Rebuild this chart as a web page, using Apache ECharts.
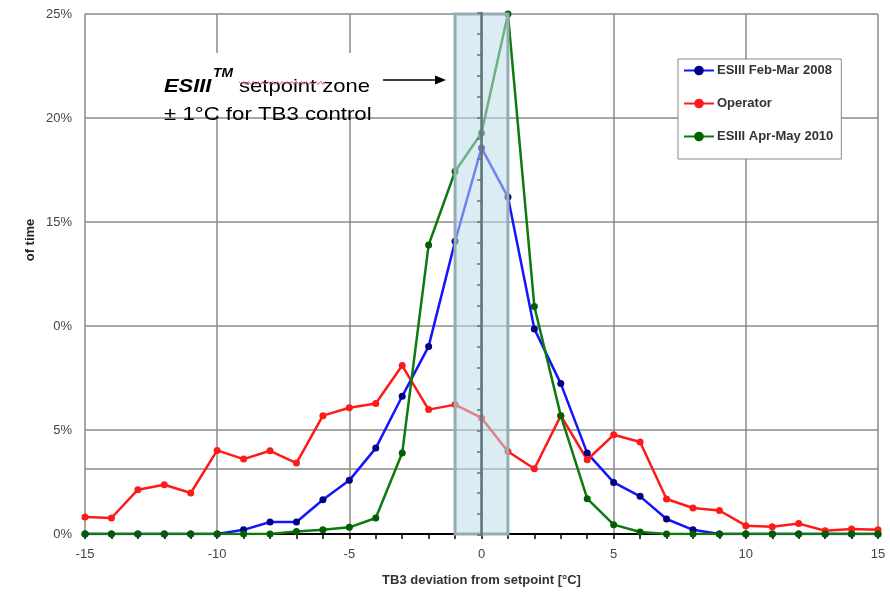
<!DOCTYPE html>
<html>
<head>
<meta charset="utf-8">
<script src="https://cdn.jsdelivr.net/npm/echarts@6/dist/echarts.min.js"></script>
<style>html,body{margin:0;padding:0;background:#fff}#c{width:890px;height:592px}</style>
</head>
<body>
<div id="c"></div>
<script>
const xValues = [-15,-14,-13,-12,-11,-10,-9,-8,-7,-6,-5,-4,-3,-2,-1,0,1,2,3,4,5,6,7,8,9,10,11,12,13,14,15];
const esiii2008 = [0,0,0,0,0,0,0.2,0.58,0.58,1.65,2.58,4.13,6.62,9.02,14.07,18.56,16.2,9.86,7.23,3.89,2.48,1.81,0.72,0.2,0,0,0,0,0,0,0];
const operator = [0.82,0.77,2.13,2.37,1.97,4.02,3.6,4.0,3.41,5.69,6.07,6.27,8.1,5.98,6.22,5.58,3.97,3.14,5.69,3.57,4.77,4.42,1.68,1.25,1.13,0.4,0.35,0.5,0.16,0.24,0.21];
const esiii2010 = [0,0,0,0,0,0,0,0,0.12,0.2,0.32,0.77,3.89,13.9,17.43,19.28,25,10.94,5.69,1.7,0.45,0.1,0,0,0,0,0,0,0,0,0];
const seriesNames = ['ESIII Feb-Mar 2008','Operator','ESIII Apr-May 2010'];
const yTickLabels = {0:'0%',5:'5%',10:'0%',15:'15%',20:'20%',25:'25%'};
const zoneRange = [-1, 1];
const extraGridValue = 3.14;

const chart = echarts.init(document.getElementById('c'));
const FONT = 'Liberation Sans, Arial, sans-serif';
function pairs(arr){ return arr.map((v,i)=>[xValues[i], v]); }
function lineSeries(name, data, lineColor, markColor){
  return {
    name, type:'line', data: pairs(data), z:2,
    symbol:'circle', symbolSize:7, showSymbol:true,
    lineStyle:{color:lineColor, width:2.5},
    itemStyle:{color:markColor},
    emphasis:{disabled:true}, animation:false
  };
}
// wavy spell-check underline under "setpoint"
const wave = [];
for (let i = 0; i <= 36; i++) wave.push([239 + i*2.4, i % 2 ? 84.5 : 81.5]);

chart.setOption({
  animation:false,
  grid:[{left:85, right:12, top:14, bottom:58},{left:481, width:1, top:13, bottom:57}],
  legend:{
    data:seriesNames, orient:'vertical', left:678, top:59,
    itemWidth:30, itemHeight:12, itemGap:20,
    padding:[5,8,16,5],
    backgroundColor:'#fff', borderColor:'#888', borderWidth:1,
    textStyle:{fontFamily:FONT, fontSize:13, fontWeight:'bold', color:'#333', padding:[0,0,0,-2]}
  },
  xAxis:[{
    type:'value', min:-15, max:15, interval:5,
    axisLine:{onZero:false, lineStyle:{color:'#000', width:2}},
    axisTick:{show:true, length:5, lineStyle:{color:'#000', width:1.5}},
    minorTick:{show:true, splitNumber:5, length:5, lineStyle:{color:'#000', width:1.5}},
    axisLabel:{fontFamily:FONT, fontSize:13, color:'#444', margin:14},
    splitLine:{show:true, lineStyle:{color:'#8a8a8a', width:1.5}},
    name:'TB3 deviation from setpoint [°C]', nameLocation:'middle', nameGap:40,
    nameTextStyle:{fontFamily:FONT, fontSize:13, fontWeight:'bold', color:'#333'}
  },{
    gridIndex:1, type:'value', min:0, max:1, show:false
  }],
  yAxis:[{
    type:'value', min:0, max:25, interval:5,
    axisLine:{show:true, lineStyle:{color:'#8a8a8a', width:1.5}},
    axisTick:{show:false},
    axisLabel:{fontFamily:FONT, fontSize:13, color:'#444', margin:13, formatter:v=>yTickLabels[v]},
    splitLine:{show:true, lineStyle:{color:'#8a8a8a', width:1.5}}
  },{
    gridIndex:1, type:'value', min:0, max:25, interval:1, position:'left', z:10,
    axisLine:{show:true, onZero:false, lineStyle:{color:'#60757b', width:2.5}},
    axisTick:{show:true, length:4, lineStyle:{color:'#60757b', width:1.5}},
    axisLabel:{show:false}, splitLine:{show:false}
  }],
  series:[
    {type:'line', data:[], z:1, silent:true,
     markLine:{silent:true, symbol:'none', label:{show:false}, z:1,
       lineStyle:{color:'#8a8a8a', width:1.5, type:'solid'},
       data:[{yAxis:extraGridValue}]}},
    lineSeries(seriesNames[0], esiii2008, '#1414ff', '#000080'),
    lineSeries(seriesNames[1], operator, '#ff1a1a', '#ff1a1a'),
    lineSeries(seriesNames[2], esiii2010, '#0c7a0c', '#006000'),
    {type:'line', data:[], z:5, silent:true,
     markArea:{silent:true, z:5,
       itemStyle:{color:'rgba(190,222,232,0.55)', borderColor:'#93adb3', borderWidth:3},
       data:[[{xAxis:zoneRange[0], yAxis:0},{xAxis:zoneRange[1], yAxis:25}]]}}
  ],
  graphic:[
    {type:'rect', shape:{x:150, y:53, width:298, height:62}, style:{fill:'#fff'}, z:3, silent:true},
    {type:'text', x:164, y:77, scaleX:1.15, z:4, style:{text:'ESIII', font:'italic bold 19px '+FONT, fill:'#000', textVerticalAlign:'alphabetic'}},
    {type:'text', x:213, y:68, scaleX:1.15, z:4, style:{text:'TM', font:'italic bold 12px '+FONT, fill:'#000', textVerticalAlign:'alphabetic'}},
    {type:'text', x:239, y:77, scaleX:1.16, z:4, style:{text:'setpoint zone', font:'19px '+FONT, fill:'#000', textVerticalAlign:'alphabetic'}},
    {type:'polyline', z:4, shape:{points:wave}, style:{stroke:'#e05a6a', lineWidth:1, fill:null}},
    {type:'text', x:164, y:105, scaleX:1.17, z:4, style:{text:'± 1°C for TB3 control', font:'19px '+FONT, fill:'#000', textVerticalAlign:'alphabetic'}},
    {type:'line', z:4, shape:{x1:383, y1:80, x2:437, y2:80}, style:{stroke:'#000', lineWidth:1.5}},
    {type:'polygon', z:4, shape:{points:[[446,80],[435,75.5],[435,84.5]]}, style:{fill:'#000'}},
    {type:'text', x:30, y:240, rotation:Math.PI/2, z:4, style:{text:'of time', font:'bold 13px '+FONT, fill:'#222', textAlign:'center', textVerticalAlign:'middle'}}
  ]
});
</script>
</body>
</html>
